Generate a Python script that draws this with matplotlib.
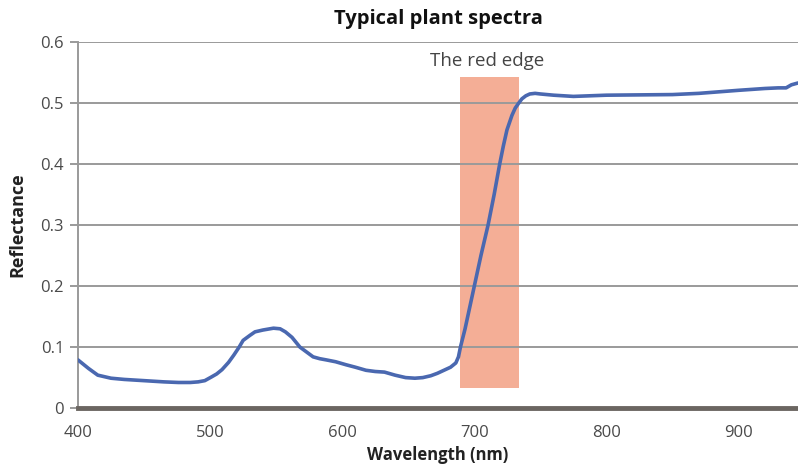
import matplotlib
matplotlib.use("Agg")
import matplotlib.pyplot as plt
from matplotlib.patches import Rectangle
import numpy as np

wavelength = [400, 404, 408, 415, 425, 435, 450, 465, 476, 485, 491, 496, 501, 505, 509,
              514, 518, 522, 525, 530, 534, 540, 548, 553, 557, 562, 568, 573, 578, 583,
              588, 595, 603, 610, 618, 625, 632, 640, 648, 655, 661, 667, 672, 677, 682,
              686, 688, 689.5, 693, 697, 700, 705, 710.4, 715, 719.2, 722, 724.7, 728.5,
              731, 733.6, 736, 739, 742, 746, 750, 760, 775, 800, 850, 870, 900, 920,
              930, 936, 940, 945]
reflectance = [0.079, 0.072, 0.065, 0.054, 0.049, 0.047, 0.045, 0.043, 0.042, 0.042, 0.043,
               0.045, 0.051, 0.056, 0.063, 0.075, 0.087, 0.100, 0.111, 0.119, 0.125, 0.128,
               0.131, 0.130, 0.125, 0.116, 0.100, 0.092, 0.084, 0.081, 0.079, 0.076, 0.071,
               0.067, 0.062, 0.060, 0.059, 0.054, 0.050, 0.049, 0.050, 0.053, 0.057, 0.062,
               0.067, 0.074, 0.084, 0.100, 0.130, 0.170, 0.200, 0.250, 0.300, 0.350, 0.400,
               0.430, 0.456, 0.480, 0.492, 0.500, 0.507, 0.512, 0.515, 0.516, 0.515, 0.513,
               0.511, 0.513, 0.514, 0.516, 0.521, 0.524, 0.525, 0.525, 0.530, 0.533]

red_edge_x = [689, 734]
red_edge_y = [0.033, 0.543]

x_ticks = [400, 500, 600, 700, 800, 900]
y_ticks = [0, 0.1, 0.2, 0.3, 0.4, 0.5, 0.6]
y_ticklabels = ["0", "0.1", "0.2", "0.3", "0.4", "0.5", "0.6"]

plt.rcParams['font.family'] = ['Open Sans', 'DejaVu Sans']

fig = plt.figure(figsize=(7.98, 4.68), dpi=100)
ax = fig.add_axes([0.0977, 0.128, 0.9023, 0.782])

ax.set_xlim(400, 945)
ax.set_ylim(0, 0.6)

ax.add_patch(Rectangle((red_edge_x[0], red_edge_y[0]), red_edge_x[1] - red_edge_x[0],
                       red_edge_y[1] - red_edge_y[0], facecolor='#f4ae96', edgecolor='none', zorder=1))

for yv in y_ticks[1:]:
    ax.axhline(yv, color='#9a9a9a', lw=1.4, zorder=2)

ax.plot(wavelength, reflectance, color='#4a68b0', lw=2.6, zorder=3,
        solid_capstyle='round', solid_joinstyle='round')

ax.text(np.mean(red_edge_x) - 2, 0.554, "The red edge", ha='center', va='bottom',
        fontsize=13.5, color='#444444')

ax.set_xticks(x_ticks)
ax.set_yticks(y_ticks)
ax.set_yticklabels(y_ticklabels)
ax.tick_params(axis='x', length=0, pad=12, labelsize=12, labelcolor='#4a4a4a')
ax.tick_params(axis='y', length=6, width=1.4, color='#9a9a9a', pad=4, labelsize=12, labelcolor='#4a4a4a')

for s in ['top', 'right']:
    ax.spines[s].set_visible(False)
ax.spines['left'].set_color('#9a9a9a')
ax.spines['left'].set_linewidth(1.4)
ax.spines['bottom'].set_color('#6b6661')
ax.spines['bottom'].set_linewidth(3.5)
ax.spines['bottom'].set_zorder(4)

ax.set_title("Typical plant spectra", fontsize=14.5, fontweight='bold', color='#111111', pad=13)
ax.set_xlabel("Wavelength (nm)", fontsize=12, fontweight='bold', color='#222222', labelpad=4)
ax.set_ylabel("Reflectance", fontsize=13, fontweight='bold', color='#222222', labelpad=10)

fig.savefig("out.png", dpi=100)
